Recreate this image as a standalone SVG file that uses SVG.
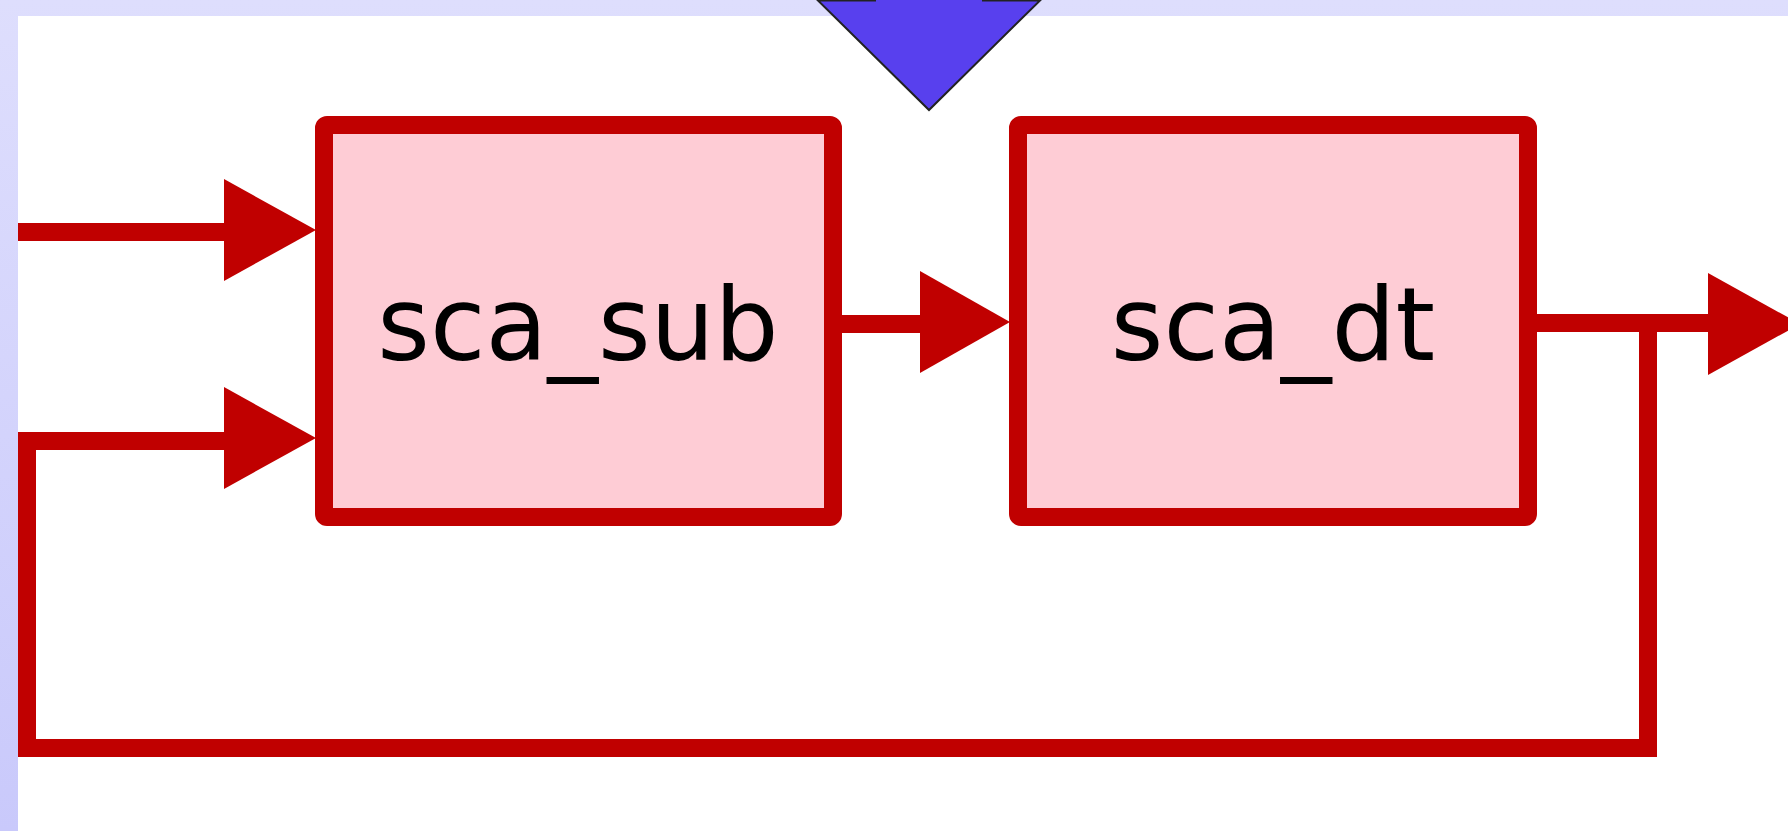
<svg xmlns="http://www.w3.org/2000/svg" width="1788" height="831" viewBox="0 0 1788 831">
  <defs>
    <linearGradient id="frameGrad" x1="0" y1="0" x2="0" y2="1">
      <stop offset="0" stop-color="#DEDEFD"/>
      <stop offset="1" stop-color="#C9C9FB"/>
    </linearGradient>
    <style>
      .block { fill: #FECCD5; stroke: #C00000; stroke-width: 18; }
      .label { font-family: "DejaVu Sans", Verdana, sans-serif; font-size: 101px; fill: #000000; text-anchor: middle; }
      .wire { fill: none; stroke: #C00000; stroke-width: 18; stroke-linejoin: miter; stroke-linecap: butt; }
      .head { fill: #C00000; stroke: none; }
    </style>
  </defs>

  <!-- window frame and canvas -->
  <rect x="0" y="0" width="1788" height="831" fill="url(#frameGrad)"/>
  <rect x="18" y="16" width="1770" height="815" fill="#FFFFFF"/>

  <!-- incoming block arrow at the top -->
  <polygon id="input-marker" points="875,-60 875,0.5 818,0.5 929,110 1040,0.5 983,0.5 983,-60" fill="#5840EE" stroke="#222222" stroke-width="2" stroke-linejoin="miter"/>

  <!-- connectors -->
  <g id="connectors">
    <!-- external input into sca_sub -->
    <path class="wire" d="M18,232 H226"/>
    <polygon class="head" points="224,179 316,230 224,281"/>

    <!-- feedback loop from output back into sca_sub -->
    <path class="wire" d="M1648,323 V748 H27 V441 H226"/>
    <polygon class="head" points="224,387 316,438 224,489"/>

    <!-- sca_sub to sca_dt -->
    <path class="wire" d="M833,324 H922"/>
    <polygon class="head" points="920,271 1010,322 920,373"/>

    <!-- output of sca_dt -->
    <path class="wire" d="M1527,323 H1712"/>
    <polygon class="head" points="1708,273 1800,324 1708,375"/>
  </g>

  <!-- blocks -->
  <g id="sca_sub">
    <rect class="block" x="324" y="125" width="509" height="392" rx="3"/>
    <text class="label" x="578" y="360">sca_sub</text>
  </g>

  <g id="sca_dt">
    <rect class="block" x="1018" y="125" width="510" height="392" rx="3"/>
    <text class="label" x="1273" y="360">sca_dt</text>
  </g>
</svg>
